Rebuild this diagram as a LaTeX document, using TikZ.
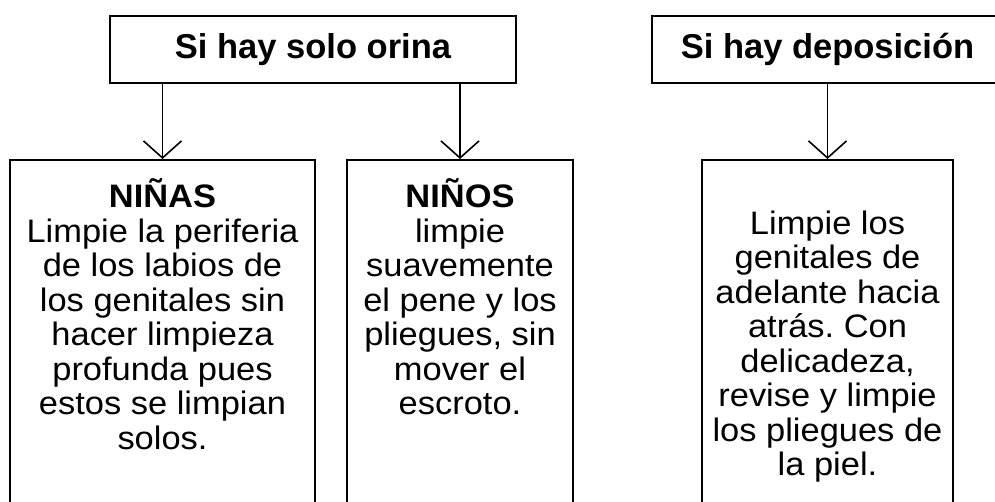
\documentclass[tikz,border=0pt]{standalone}
\usepackage{fontspec}
\setmainfont{Liberation Sans}
\newfontfamily\cuerpo[FakeStretch=1.06]{Liberation Sans}
\usetikzlibrary{arrows.meta,positioning}
\frenchspacing

\begin{document}
\begin{tikzpicture}[
      x=1pt,y=-1pt,
      line width=1.6pt,
      titulo/.style={
        draw,
        font=\fontsize{34.5}{40}\selectfont\bfseries,
        minimum height=67pt,
        inner sep=0pt
      },
      caja/.style={
        draw,
        anchor=north,
        minimum height=360pt,
        inner sep=0pt
      },
      texto/.style={
        anchor=north,
        align=center,
        font=\cuerpo\fontsize{32.5}{34.5}\selectfont,
        inner sep=0pt
      },
      flecha/.style={
        -{Straight Barb[length=17pt,width=38pt]}
      }
    ]
      \useasboundingbox (0,0) rectangle (995,502);
      \node (t1) at (313,49.5) [titulo,minimum width=406pt]{Si hay solo orina};
      \node (t2) at (827.5,49.5) [titulo,minimum width=351pt]{Si hay deposición};
      \node (c1) at (162.5,159) [caja,minimum width=305pt]{};
      \node (c2) at (460,159) [caja,minimum width=226pt]{};
      \node (c3) at (827.5,159) [caja,minimum width=251pt]{};
      \node (x1) [texto,below=19pt of c1.north]{\textbf{NIÑAS}\\Limpie la periferia\\de los labios de\\los genitales sin\\hacer limpieza\\profunda pues\\estos se limpian\\solos.};
      \node (x2) [texto,below=19pt of c2.north]{\textbf{NIÑOS}\\limpie\\suavemente\\el pene y los\\pliegues, sin\\mover el\\escroto.};
      \node (x3) [texto,below=51pt of c3.north]{Limpie los\\genitales de\\adelante hacia\\atrás. Con\\delicadeza,\\revise y limpie\\los pliegues de\\la piel.};

      \draw[flecha] (c1.north |- t1.south) -- (c1.north);
      \draw[flecha] (c2.north |- t1.south) -- (c2.north);
      \draw[flecha] (c3.north |- t2.south) -- (c3.north);

    \end{tikzpicture}
\end{document}
